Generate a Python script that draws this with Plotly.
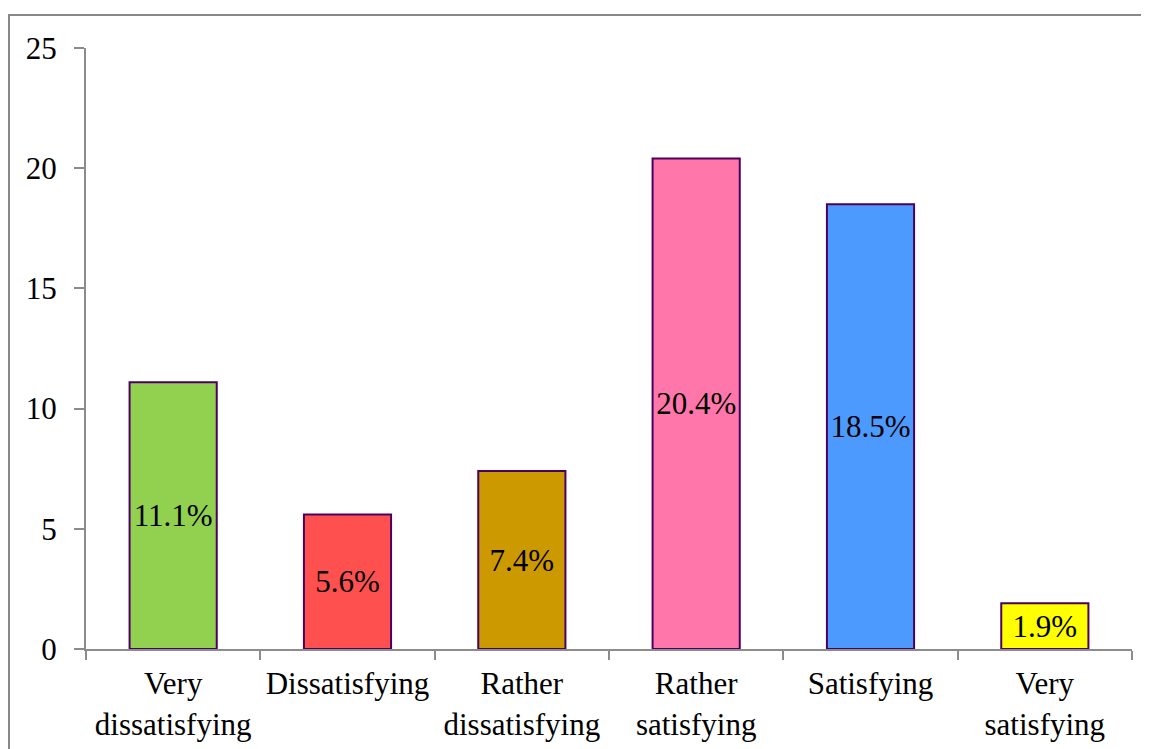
import plotly.graph_objects as go

categories = ["Very<br>dissatisfying", "Dissatisfying", "Rather<br>dissatisfying",
              "Rather<br>satisfying", "Satisfying", "Very<br>satisfying"]
values = [11.1, 5.6, 7.4, 20.4, 18.5, 1.9]
labels = ["11.1%", "5.6%", "7.4%", "20.4%", "18.5%", "1.9%"]
colors = ["#92D050", "#FF5050", "#CC9900", "#FF77AA", "#4D9AFF", "#FFFF00"]

FONT = "Liberation Serif, Times New Roman, serif"
FS = 31

fig = go.Figure(go.Bar(
    x=categories, y=values, text=labels,
    textposition="inside", insidetextanchor="middle", textangle=0,
    constraintext="none", cliponaxis=False,
    textfont=dict(family=FONT, size=FS, color="black"),
    marker=dict(color=colors, line=dict(color="#4B0060", width=2)),
    hoverinfo="skip",
))

# page body has an 8px default margin; compensate in figure size/margins
fig.update_layout(
    width=1141, height=741,
    margin=dict(l=78, r=17, t=40, b=100, autoexpand=False),
    paper_bgcolor="white", plot_bgcolor="white",
    bargap=0.5, showlegend=False,
    font=dict(family=FONT, size=FS, color="black"),
    shapes=[dict(type="rect", xref="paper", yref="paper",
                 x0=(9 - 86) / 1046, x1=(1170 - 86) / 1046,
                 y0=-0.3, y1=(649 - 15) / 601,
                 line=dict(color="#888888", width=2), fillcolor="rgba(0,0,0,0)",
                 layer="below")],
)
fig.update_xaxes(
    showline=True, linecolor="#8c8c8c", linewidth=2, automargin=False, tickangle=0,
    ticks="outside", tickson="boundaries", ticklen=9, tickcolor="#8c8c8c", tickwidth=2,
    ticklabelstandoff=6,
    showgrid=False, tickfont=dict(family=FONT, size=FS, color="black"),
)
fig.update_yaxes(
    range=[0, 25], dtick=5, showline=True, linecolor="#8c8c8c", linewidth=2,
    automargin=False,
    ticks="outside", ticklen=10, tickcolor="#8c8c8c", tickwidth=2,
    showgrid=False, zeroline=False, ticklabelstandoff=11,
    tickfont=dict(family=FONT, size=FS, color="black"),
)

fig.write_html("out.html")
